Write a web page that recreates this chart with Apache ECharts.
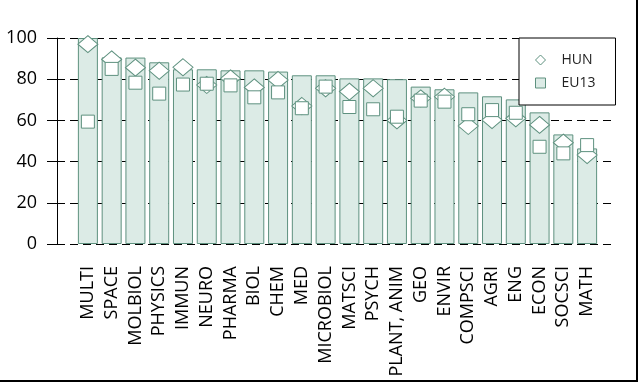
<!DOCTYPE html>
<html>
<head>
<meta charset="utf-8">
<script src="https://cdn.jsdelivr.net/npm/echarts@6/dist/echarts.min.js"></script>
<style>html,body{margin:0;padding:0;background:#fff}#c{width:638px;height:382px}</style>
</head>
<body>
<div id="c"></div>
<script>
const categories = ["MULTI","SPACE","MOLBIOL","PHYSICS","IMMUN","NEURO","PHARMA","BIOL","CHEM","MED","MICROBIOL","MATSCI","PSYCH","PLANT, ANIM","GEO","ENVIR","COMPSCI","AGRI","ENG","ECON","SOCSCI","MATH"];
const totalValues = [100,90.6,90.5,88.2,84.8,84.8,84.3,84.3,83.7,81.9,81.9,80.4,80.4,80.0,76.4,75.1,73.6,71.7,70.2,63.9,53.2,46.4];
const hunValues = [97,89.6,85.6,84.1,85.8,77.2,80.4,76,79.6,67,75.6,74,75.6,60,70.7,71.5,57.3,60.2,61,57.8,49.2,43.2];
const eu13Values = [59.4,85,78.3,73,77.4,77.8,77,71.2,73.6,65.9,76.4,66.5,65.4,61.8,69.6,69.1,63,65,63.7,47.2,44,48];
const yTicks = [0,20,40,60,80,100];

const green = '#5e917f';
const fill = '#dcebe6';
const chart = echarts.init(document.getElementById('c'), null, {renderer:'canvas'});
chart.setOption({
  animation:false,
  backgroundColor:'#fff',
  textStyle:{fontFamily:'"Open Sans", sans-serif'},
  grid:[
    {left:57, right:25, top:38, bottom:138},
    {left:76, right:39, top:38, bottom:138}
  ],
  xAxis:[
    {gridIndex:0, type:'category', data:categories, show:false},
    {gridIndex:1, type:'category', data:categories,
     axisLine:{show:false}, axisTick:{show:false},
     axisLabel:{rotate:90, interval:0, margin:22, fontSize:18, color:'#000', fontFamily:'"Open Sans", sans-serif'}}
  ],
  yAxis:[
    {gridIndex:0, type:'value', min:0, max:100, interval:20,
     axisLine:{show:true, lineStyle:{color:'#000', width:1}},
     axisTick:{show:true, length:10, lineStyle:{color:'#000'}},
     axisLabel:{margin:20, fontSize:18, color:'#000', fontFamily:'"Open Sans", sans-serif',
       formatter:function(v){return yTicks.indexOf(v)>=0? String(v):'';}},
     splitLine:{show:true, lineStyle:{color:'#000', type:[8,5], width:1}}},
    {gridIndex:1, type:'value', min:0, max:100, interval:20, show:false, splitLine:{show:false}}
  ],
  legend:{
    data:[
      {name:'HUN', itemStyle:{color:'#fff', borderColor:green, borderWidth:1}},
      {name:'EU13', itemStyle:{color:fill, borderColor:green, borderWidth:1}}
    ],
    orient:'vertical', left:519, top:38,
    padding:[13,20,13,16], itemGap:5, itemWidth:10, itemHeight:10,
    borderColor:'#000', borderWidth:1, backgroundColor:'#fff',
    textStyle:{fontSize:14, lineHeight:18, color:'#222', padding:[0,0,0,11], fontFamily:'"Open Sans", sans-serif'}
  },
  series:[
    {name:'total', type:'bar', xAxisIndex:1, yAxisIndex:1, data:totalValues, barWidth:20,
     itemStyle:{color:fill, borderColor:green, borderWidth:1}, z:2},
    {name:'HUN', type:'scatter', xAxisIndex:1, yAxisIndex:1, data:hunValues, symbol:'diamond', symbolSize:[20,17],
     itemStyle:{color:'#fff', borderColor:green, borderWidth:1, opacity:1}, z:3},
    {name:'EU13', type:'scatter', xAxisIndex:1, yAxisIndex:1, data:eu13Values, symbol:'rect', symbolSize:13,
     itemStyle:{color:'#fff', borderColor:green, borderWidth:1, opacity:1}, z:4}
  ],
  graphic:[
    {type:'rect', shape:{x:636, y:0, width:2, height:382}, style:{fill:'#000'}, silent:true},
    {type:'rect', shape:{x:0, y:380, width:638, height:2}, style:{fill:'#000'}, silent:true}
  ]
});
</script>
</body>
</html>
